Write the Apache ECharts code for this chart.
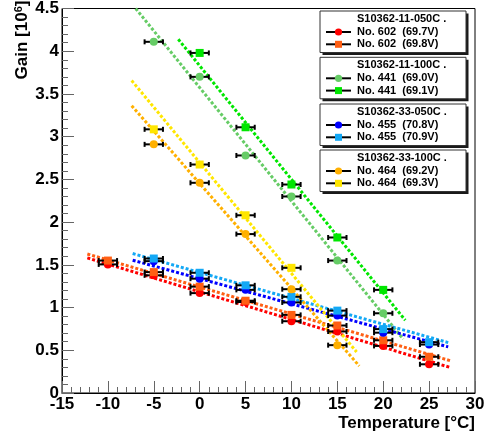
<!DOCTYPE html>
<html>
<head>
<meta charset="utf-8">
<script src="https://cdn.jsdelivr.net/npm/echarts@6/dist/echarts.min.js"></script>
<style>
  html, body { margin: 0; padding: 0; background: #fff; }
  #chart { width: 491px; height: 438px; }
</style>
</head>
<body>
<div id="chart"></div>
<script>
// Temperatures of the measurement points [deg C]
const temps = [-10, -5, 0, 5, 10, 15, 20, 25];
const tempErr = 1; // horizontal error on temperature

// Gain [10^6] per device / bias voltage (null = not measured)
const gain602_697 = [1.505, 1.377, 1.169, 1.065, 0.840, 0.720, 0.551, 0.336];
const gain602_698 = [1.550, 1.415, 1.245, 1.080, 0.914, 0.790, 0.617, 0.424];
const gain441_690 = [null, 4.110, 3.700, 2.780, 2.300, 1.550, 0.933, null];
const gain441_691 = [null, null, 3.980, 3.110, 2.440, 1.820, 1.207, null];
const gain455_708 = [null, 1.543, 1.338, 1.207, 1.060, 0.906, 0.706, 0.567];
const gain455_709 = [null, 1.574, 1.407, 1.260, 1.126, 0.964, 0.748, 0.595];
const gain464_692 = [null, 2.910, 2.460, 1.860, 1.215, 0.560, null, null];
const gain464_693 = [null, 3.086, 2.674, 2.080, 1.465, null, null, null];

// Linear fit lines: [start, end] as [temperature, gain]
const fit602_697 = [[-12.24, 1.581], [27.27, 0.300]];
const fit602_698 = [[-12.24, 1.627], [27.34, 0.377]];
const fit441_690 = [[-6.97, 4.500], [22.18, 0.630]];
const fit441_691 = [[-2.33, 4.140], [22.40, 0.852]];
const fit455_708 = [[-7.30, 1.554], [27.08, 0.540]];
const fit455_709 = [[-7.30, 1.632], [27.08, 0.590]];
const fit464_692 = [[-7.41, 3.363], [17.39, 0.316]];
const fit464_693 = [[-7.41, 3.657], [17.10, 0.480]];

// Legend text
const groupTitles = ['S10362-11-050C .', 'S10362-11-100C .', 'S10362-33-050C .', 'S10362-33-100C .'];
const entryLabels = [
  ['No. 602  (69.7V)', 'No. 602  (69.8V)'],
  ['No. 441  (69.0V)', 'No. 441  (69.1V)'],
  ['No. 455  (70.8V)', 'No. 455  (70.9V)'],
  ['No. 464  (69.2V)', 'No. 464  (69.3V)']
];

const FONT = '"Liberation Sans", Arial, Helvetica, sans-serif';

const curves = [
  { name: entryLabels[0][0], color: '#ff0000', symbol: 'circle', vals: gain602_697, fit: fit602_697 },
  { name: entryLabels[0][1], color: '#ff5f14', symbol: 'rect',   vals: gain602_698, fit: fit602_698 },
  { name: entryLabels[1][0], color: '#66cc66', symbol: 'circle', vals: gain441_690, fit: fit441_690 },
  { name: entryLabels[1][1], color: '#00e600', symbol: 'rect',   vals: gain441_691, fit: fit441_691 },
  { name: entryLabels[2][0], color: '#0000ff', symbol: 'circle', vals: gain455_708, fit: fit455_708 },
  { name: entryLabels[2][1], color: '#13a8f5', symbol: 'rect',   vals: gain455_709, fit: fit455_709 },
  { name: entryLabels[3][0], color: '#ffb000', symbol: 'circle', vals: gain464_692, fit: fit464_692 },
  { name: entryLabels[3][1], color: '#ffe600', symbol: 'rect',   vals: gain464_693, fit: fit464_693 }
];

function pointsOf(vals) {
  const out = [];
  vals.forEach((v, i) => { if (v !== null) out.push([temps[i], v]); });
  return out;
}

function renderErrorBar(params, api) {
  const x = api.value(0), y = api.value(1);
  const a = api.coord([x - tempErr, y]);
  const b = api.coord([x + tempErr, y]);
  const h = 2.5;
  const st = { stroke: '#000', lineWidth: 2 };
  return {
    type: 'group',
    children: [
      { type: 'line', shape: { x1: a[0], y1: a[1], x2: b[0], y2: b[1] }, style: st },
      { type: 'line', shape: { x1: a[0], y1: a[1] - h, x2: a[0], y2: a[1] + h }, style: st },
      { type: 'line', shape: { x1: b[0], y1: b[1] - h, x2: b[0], y2: b[1] + h }, style: st }
    ]
  };
}

const series = [];
curves.forEach(c => {
  series.push({
    type: 'line', data: c.fit, showSymbol: false, silent: true, clip: true, z: 2,
    lineStyle: { color: c.color, width: 3, type: [3, 2] }
  });
});
curves.forEach(c => {
  series.push({
    type: 'custom', data: pointsOf(c.vals), renderItem: renderErrorBar, z: 3, silent: true
  });
});
curves.forEach(c => {
  series.push({
    type: 'scatter', name: c.name, data: pointsOf(c.vals), z: 4,
    symbol: c.symbol, symbolSize: c.symbol === 'rect' ? 8 : 8,
    itemStyle: { color: c.color, opacity: 1 }
  });
});

// Legend boxes
const legendLeft = 320, legendW = 146, boxH = 41.5;
const boxTops = [11, 57.3, 104, 150];
const graphics = [];
boxTops.forEach((top, g) => {
  graphics.push({ type: 'rect', shape: { x: legendLeft + 2.5, y: top + 2.5, width: legendW, height: boxH },
    style: { fill: '#1a1a1a' }, z: 10 });
  graphics.push({ type: 'rect', shape: { x: legendLeft, y: top, width: legendW, height: boxH },
    style: { fill: '#fff', stroke: '#333', lineWidth: 1 }, z: 11 });
  graphics.push({ type: 'text', x: 357, y: top + 7.5, z: 12,
    style: { text: groupTitles[g], font: 'bold 11px ' + FONT, fill: '#000', verticalAlign: 'middle', align: 'left' } });
  [0, 1].forEach(k => {
    const c = curves[g * 2 + k];
    const yy = top + 21 + k * 12.3;
    graphics.push({ type: 'line', shape: { x1: 326, y1: yy, x2: 351, y2: yy }, style: { stroke: '#000', lineWidth: 2 }, z: 12 });
    if (c.symbol === 'circle') {
      graphics.push({ type: 'circle', shape: { cx: 338.5, cy: yy, r: 3.6 }, style: { fill: c.color }, z: 13 });
    } else {
      graphics.push({ type: 'rect', shape: { x: 335, y: yy - 3.5, width: 7, height: 7 }, style: { fill: c.color }, z: 13 });
    }
    graphics.push({ type: 'text', x: 357, y: yy, z: 12,
      style: { text: entryLabels[g][k], font: 'bold 11px ' + FONT, fill: '#000', verticalAlign: 'middle', align: 'left' } });
  });
});

// Axis titles
graphics.push({ type: 'text', x: 475, y: 423, z: 12,
  style: { text: 'Temperature [°C]', font: 'bold 17px ' + FONT, fill: '#000', align: 'right', verticalAlign: 'middle' } });
graphics.push({ type: 'text', x: 22, y: 40, rotation: Math.PI / 2, z: 12,
  style: {
    text: '{a|Gain [10}{s|6}{a|]}', align: 'center', verticalAlign: 'middle',
    rich: {
      a: { fontSize: 17, fontWeight: 'bold', fontFamily: FONT, fill: '#000' },
      s: { fontSize: 11, fontWeight: 'bold', fontFamily: FONT, fill: '#000', verticalAlign: 'top' }
    }
  } });

const axisCommon = {
  type: 'value',
  axisLine: { show: true, onZero: false, lineStyle: { color: '#000', width: 1 } },
  axisTick: { show: true, inside: true, length: 12, lineStyle: { color: '#666', width: 1 } },
  minorTick: { show: true, splitNumber: 5, length: 6, lineStyle: { color: '#666', width: 1 } },
  splitLine: { show: false },
  minorSplitLine: { show: false }
};

const chart = echarts.init(document.getElementById('chart'), null, { renderer: 'canvas' });
chart.setOption({
  animation: false,
  backgroundColor: '#fff',
  grid: { left: 62, right: 16, top: 4, bottom: 45, show: true, borderColor: '#000', borderWidth: 1, backgroundColor: 'transparent' },
  xAxis: Object.assign({}, axisCommon, {
    min: -15, max: 30, interval: 5,
    axisLabel: { fontSize: 17, fontWeight: 'bold', fontFamily: FONT, color: '#000', margin: 3 }
  }),
  yAxis: Object.assign({}, axisCommon, {
    min: 0, max: 4.5, interval: 0.5,
    axisLabel: { fontSize: 17, fontWeight: 'bold', fontFamily: FONT, color: '#000', margin: 3 }
  }),
  series: series,
  graphic: graphics
});
</script>
</body>
</html>
